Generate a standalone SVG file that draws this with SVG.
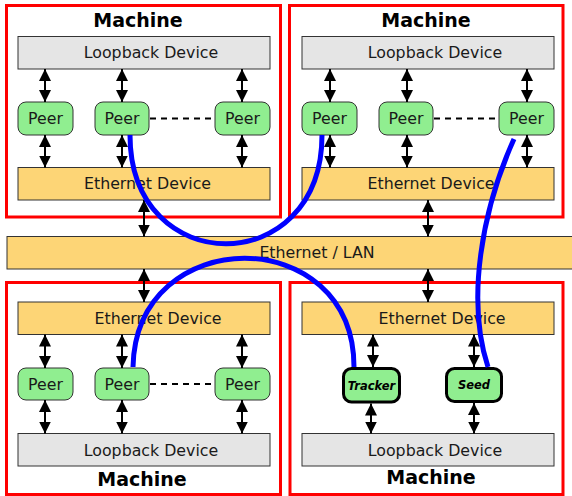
<svg xmlns="http://www.w3.org/2000/svg" width="572" height="496" viewBox="0 0 572 496">
  <defs>
    <marker id="ah" viewBox="0 0 10 10" refX="10" refY="5" markerWidth="12" markerHeight="12" markerUnits="userSpaceOnUse" orient="auto-start-reverse">
      <path d="M0,0 L10,5 L0,10 z" fill="#000"/>
    </marker>
    <style>
      .machine { fill: #fff; stroke: #ff0000; stroke-width: 3; }
      .loop { fill: #e5e5e5; stroke: #333; stroke-width: 1; }
      .eth { fill: #fdd576; stroke: #333; stroke-width: 1; }
      .peer { fill: #90ee90; stroke: #333; stroke-width: 1; }
      .special { fill: #90ee90; stroke: #000; stroke-width: 3; }
      .lbl { font-family: "DejaVu Sans", sans-serif; font-size: 15.8px; fill: #1a1a1a; text-anchor: middle; }
      .title { font-family: "DejaVu Sans", sans-serif; font-size: 19px; font-weight: bold; fill: #000; text-anchor: middle; }
      .role { font-family: "DejaVu Sans", sans-serif; font-size: 11.5px; font-weight: bold; font-style: italic; fill: #000; text-anchor: middle; }
      .link { stroke: #000; stroke-width: 2; marker-start: url(#ah); marker-end: url(#ah); }
      .dash { stroke: #000; stroke-width: 2; stroke-dasharray: 6 5; }
      .flow { fill: none; stroke: #0000ff; stroke-width: 5; }
    </style>
  </defs>

  <!-- shared LAN segment -->
  <g id="lan">
    <rect class="eth" x="7" y="236.5" width="570" height="32.5"/>
    <text class="lbl" x="317" y="258">Ethernet / LAN</text>
  </g>

  <!-- machine, top left -->
  <g id="machine-tl">
    <rect class="machine" x="6.5" y="5.5" width="274" height="211.5"/>
    <text class="title" x="138" y="27">Machine</text>
    <g id="tl-loop"><rect class="loop" x="18" y="36.5" width="252" height="32.5"/><text class="lbl" x="151" y="58">Loopback Device</text></g>
    <g id="tl-peer1"><rect class="peer" x="18" y="102" width="55" height="33" rx="8"/><text class="lbl" x="45.5" y="124">Peer</text></g>
    <g id="tl-peer2"><rect class="peer" x="95" y="102" width="54" height="33" rx="8"/><text class="lbl" x="122" y="124">Peer</text></g>
    <g id="tl-peer3"><rect class="peer" x="215" y="102" width="55" height="33" rx="8"/><text class="lbl" x="242.5" y="124">Peer</text></g>
    <g id="tl-eth"><rect class="eth" x="18" y="167.5" width="252" height="32.5"/><text class="lbl" x="147.5" y="189">Ethernet Device</text></g>
  </g>

  <!-- machine, top right -->
  <g id="machine-tr">
    <rect class="machine" x="289.5" y="5.5" width="273.5" height="211.5"/>
    <text class="title" x="426" y="27">Machine</text>
    <g id="tr-loop"><rect class="loop" x="302" y="36.5" width="252" height="32.5"/><text class="lbl" x="435" y="58">Loopback Device</text></g>
    <g id="tr-peer1"><rect class="peer" x="302" y="102" width="55" height="33" rx="8"/><text class="lbl" x="329.5" y="124">Peer</text></g>
    <g id="tr-peer2"><rect class="peer" x="379" y="102" width="54" height="33" rx="8"/><text class="lbl" x="406" y="124">Peer</text></g>
    <g id="tr-peer3"><rect class="peer" x="499" y="102" width="55" height="33" rx="8"/><text class="lbl" x="526.5" y="124">Peer</text></g>
    <g id="tr-eth"><rect class="eth" x="302" y="167.5" width="252" height="32.5"/><text class="lbl" x="431" y="189">Ethernet Device</text></g>
  </g>

  <!-- machine, bottom left -->
  <g id="machine-bl">
    <rect class="machine" x="6.5" y="282.5" width="274" height="212"/>
    <text class="title" x="142" y="486">Machine</text>
    <g id="bl-eth"><rect class="eth" x="18" y="302" width="252" height="32.5"/><text class="lbl" x="158" y="324">Ethernet Device</text></g>
    <g id="bl-peer1"><rect class="peer" x="18" y="368" width="55" height="32" rx="8"/><text class="lbl" x="45.5" y="389.5">Peer</text></g>
    <g id="bl-peer2"><rect class="peer" x="95" y="368" width="54" height="32" rx="8"/><text class="lbl" x="122" y="389.5">Peer</text></g>
    <g id="bl-peer3"><rect class="peer" x="215" y="368" width="55" height="32" rx="8"/><text class="lbl" x="242.5" y="389.5">Peer</text></g>
    <g id="bl-loop"><rect class="loop" x="18" y="433.5" width="252" height="32.5"/><text class="lbl" x="151" y="456">Loopback Device</text></g>
  </g>

  <!-- machine, bottom right -->
  <g id="machine-br">
    <rect class="machine" x="290" y="282.5" width="273" height="212"/>
    <text class="title" x="431" y="484">Machine</text>
    <g id="br-eth"><rect class="eth" x="302" y="302" width="252" height="32.5"/><text class="lbl" x="442" y="324">Ethernet Device</text></g>
    <g id="br-tracker"><rect class="special" x="343.5" y="368.5" width="56" height="33.5" rx="8"/><text class="role" x="371.5" y="389.5">Tracker</text></g>
    <g id="br-seed"><rect class="special" x="446.5" y="368.5" width="55" height="33" rx="8"/><text class="role" x="474" y="389">Seed</text></g>
    <g id="br-loop"><rect class="loop" x="302" y="433.5" width="252" height="32.5"/><text class="lbl" x="435" y="456">Loopback Device</text></g>
  </g>

  <!-- connectors -->
  <g id="connectors">
    <!-- top left -->
    <line class="link" x1="45" y1="69" x2="45" y2="102"/>
    <line class="link" x1="122" y1="69" x2="122" y2="102"/>
    <line class="link" x1="242" y1="69" x2="242" y2="102"/>
    <line class="link" x1="45" y1="135" x2="45" y2="167.5"/>
    <line class="link" x1="122" y1="135" x2="122" y2="167.5"/>
    <line class="link" x1="242" y1="135" x2="242" y2="167.5"/>
    <line class="dash" x1="150" y1="118.5" x2="214" y2="118.5"/>
    <!-- top right -->
    <line class="link" x1="330" y1="69" x2="330" y2="102"/>
    <line class="link" x1="407" y1="69" x2="407" y2="102"/>
    <line class="link" x1="527" y1="69" x2="527" y2="102"/>
    <line class="link" x1="330" y1="135" x2="330" y2="167.5"/>
    <line class="link" x1="407" y1="135" x2="407" y2="167.5"/>
    <line class="link" x1="527" y1="135" x2="527" y2="167.5"/>
    <line class="dash" x1="434" y1="118.5" x2="498" y2="118.5"/>
    <!-- devices to LAN -->
    <line class="link" x1="144" y1="200" x2="144" y2="236.5"/>
    <line class="link" x1="428" y1="200" x2="428" y2="236.5"/>
    <line class="link" x1="144" y1="269" x2="144" y2="302"/>
    <line class="link" x1="428" y1="269" x2="428" y2="302"/>
    <!-- bottom left -->
    <line class="link" x1="45" y1="334.5" x2="45" y2="368"/>
    <line class="link" x1="122" y1="334.5" x2="122" y2="368"/>
    <line class="link" x1="242" y1="334.5" x2="242" y2="368"/>
    <line class="link" x1="45" y1="400" x2="45" y2="433.5"/>
    <line class="link" x1="122" y1="400" x2="122" y2="433.5"/>
    <line class="link" x1="242" y1="400" x2="242" y2="433.5"/>
    <line class="dash" x1="150" y1="384" x2="214" y2="384"/>
    <!-- bottom right -->
    <line class="link" x1="373" y1="334.5" x2="373" y2="367"/>
    <line class="link" x1="474" y1="334.5" x2="474" y2="367"/>
    <line class="link" x1="371" y1="403.5" x2="371" y2="433.5"/>
    <line class="link" x1="474" y1="403" x2="474" y2="433.5"/>
    <!-- peer-to-peer flows -->
    <path class="flow" d="M130,135 C130,280 322,280 322,135"/>
    <path class="flow" d="M133,367 C136,222 354,222 354,367"/>
    <path class="flow" d="M514,139 C482,210 466,300 488,367"/>
  </g>
</svg>
